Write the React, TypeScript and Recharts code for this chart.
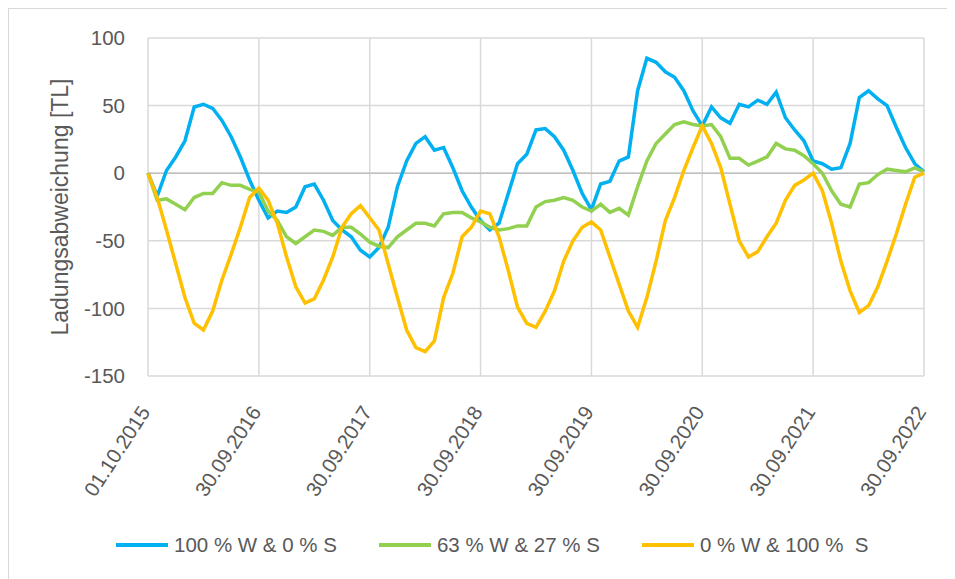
import React from 'react';
import { LineChart, Line, XAxis, YAxis, CartesianGrid, ReferenceLine, Label } from 'recharts';

// monthly samples, 01.10.2015 .. 30.09.2022 (index = months since start)
const tickLabels = ['01.10.2015', '30.09.2016', '30.09.2017', '30.09.2018', '30.09.2019', '30.09.2020', '30.09.2021', '30.09.2022'];
const yTicks = [-150, -100, -50, 0, 50, 100];

const wind100 = [
  0, -17, 2, 12, 24, 49, 51, 48, 39, 27, 12, -5, -20,
  -33, -28, -29, -25, -10, -8, -20, -35, -42, -47, -57, -62,
  -55, -40, -10, 9, 22, 27, 17, 19, 4, -13, -25, -35,
  -42, -37, -15, 7, 14, 32, 33, 27, 17, 2, -15, -27,
  -8, -6, 9, 12, 61, 85, 82, 75, 71, 61, 46, 35,
  49, 41, 37, 51, 49, 54, 51, 60, 41, 32, 24, 9,
  7, 3, 4, 22, 56, 61, 55, 50, 34, 19, 7, 1,
];
const mix63 = [
  0, -20, -19, -23, -27, -18, -15, -15, -7, -9, -9, -12, -14,
  -28, -35, -47, -52, -47, -42, -43, -46, -40, -40, -45, -51,
  -54, -55, -47, -42, -37, -37, -39, -30, -29, -29, -33, -36,
  -40, -42, -41, -39, -39, -25, -21, -20, -18, -20, -25, -28,
  -23, -29, -26, -31, -10, 9, 22, 29, 36, 38, 36, 35,
  36, 27, 11, 11, 6, 9, 12, 22, 18, 17, 13, 7,
  0, -13, -23, -25, -8, -7, -1, 3, 2, 1, 4, 1,
];
const solar100 = [
  0, -18, -42, -67, -92, -111, -116, -102, -79, -60, -40, -18, -11,
  -20, -37, -62, -84, -96, -93, -79, -62, -40, -30, -24, -33,
  -42, -67, -92, -116, -129, -132, -124, -92, -74, -47, -40, -28,
  -30, -47, -72, -99, -111, -114, -102, -87, -65, -50, -40, -36,
  -42, -62, -82, -102, -114, -92, -65, -35, -18, 2, 19, 35,
  22, 4, -23, -50, -62, -58, -47, -37, -20, -9, -5, 0,
  -13, -37, -65, -87, -103, -98, -84, -65, -45, -23, -3, 0,
];

const series = [
  { key: 'w100', name: '100 % W & 0 % S', color: '#00B0F0', values: wind100 },
  { key: 'w63', name: '63 % W & 27 % S', color: '#92D050', values: mix63 },
  { key: 's100', name: '0 % W & 100 %  S', color: '#FFC000', values: solar100 },
];

const data = wind100.map((_, i) => ({
  m: i,
  w100: wind100[i],
  w63: mix63[i],
  s100: solar100[i],
}));

const FONT = '"Liberation Sans", Arial, sans-serif';
const TEXT = '#595959';

const XTick = ({ x, y, payload }: any) => (
  <g transform={`translate(${x + 3},${y + 36})`}>
    <text textAnchor="end" transform="rotate(-57)" fill={TEXT} fontSize={20.5} fontFamily={FONT}>
      {tickLabels[Math.round(payload.value / 12)]}
    </text>
  </g>
);

const App: React.FC = () => {
  return (
    <div style={{ position: 'relative', width: 947, height: 571, borderTop: '1px solid #d9d9d9', borderLeft: '1px solid #d9d9d9', boxSizing: 'border-box', overflow: 'hidden', background: '#fff' }}>
      <LineChart width={946} height={570} data={data} margin={{ top: 29, right: 31, left: 0, bottom: 193 }}>
        <CartesianGrid stroke="#d9d9d9" strokeWidth={1.5} />
        <XAxis
          dataKey="m"
          type="number"
          domain={[0, 84]}
          ticks={[0, 12, 24, 36, 48, 60, 72, 84]}
          interval={0}
          height={10}
          tickSize={0}
          tickMargin={0}
          tickLine={false}
          axisLine={false}
          tick={<XTick />}
        />
        <YAxis
          type="number"
          domain={[-150, 100]}
          ticks={yTicks}
          interval={0}
          width={139}
          tickSize={0}
          tickMargin={23}
          tickLine={false}
          axisLine={false}
          tick={{ fill: TEXT, fontSize: 20.5, fontFamily: FONT }}
        >
          <Label
            content={({ viewBox }: any) => (
              <text
                x={51}
                y={viewBox.y + viewBox.height / 2}
                transform={`rotate(-90, 51, ${viewBox.y + viewBox.height / 2})`}
                textAnchor="middle"
                dominantBaseline="central"
                fill={TEXT}
                fontSize={23}
                fontFamily={FONT}
              >
                Ladungsabweichung [TL]
              </text>
            )}
          />
        </YAxis>
        <ReferenceLine y={0} stroke="#bfbfbf" strokeWidth={1.5} />
        {series.map((s) => (
          <Line
            key={s.key}
            type="linear"
            dataKey={s.key}
            name={s.name}
            stroke={s.color}
            strokeWidth={3.5}
            dot={false}
            isAnimationActive={false}
          />
        ))}
      </LineChart>
      <div style={{ position: 'absolute', left: 107, top: 522, height: 28, display: 'flex', alignItems: 'center', fontFamily: FONT, fontSize: 20.5, color: TEXT }}>
        {series.map((s, i) => (
          <div key={s.key} style={{ display: 'flex', alignItems: 'center', marginLeft: i === 0 ? 0 : 42 }}>
            <div style={{ width: 52, height: 4, background: s.color, marginRight: 6 }} />
            <span style={{ whiteSpace: 'pre' }}>{s.name}</span>
          </div>
        ))}
      </div>
    </div>
  );
};

export default App;
